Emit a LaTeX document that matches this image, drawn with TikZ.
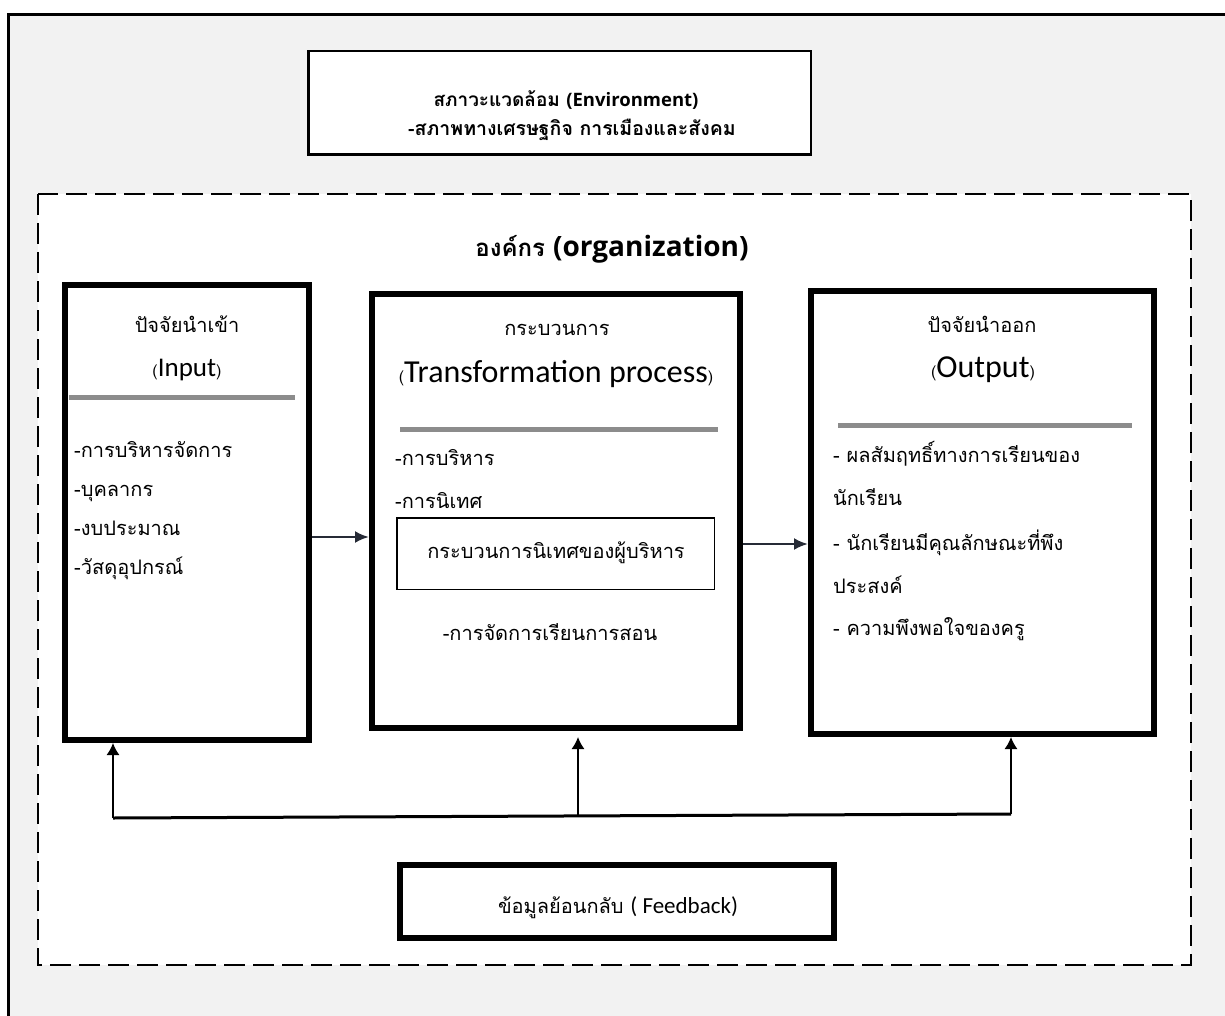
\documentclass[tikz,border=0pt]{standalone}
\usepackage{fontspec}
\setmainfont[Script=Thai]{Loma}
\newfontfamily\latfont{Carlito}
\newfontfamily\headfont{Open Sans}
\usetikzlibrary{arrows.meta}
\definecolor{pagegray}{RGB}{242,242,242}
\definecolor{rulegray}{RGB}{140,140,140}
\definecolor{arrowink}{RGB}{38,43,54}
\begin{document}
\begin{tikzpicture}[
		x={(1pt,0pt)},
		y={(0pt,-1pt)},
		bigbox/.style={draw=black,line width=6pt,fill=white,inner sep=0pt},
		thai/.style={font=\fontsize{20}{24}\selectfont,inner sep=0pt},
		flow/.style={draw=arrowink,line width=2.5pt,-{Latex[length=14pt,width=12pt]}},
		fbarrow/.style={line width=1.5pt,-{Latex[length=12pt,width=13pt]}},
	]
		\fill[white] (0,0) rectangle (1225,1016);
		\useasboundingbox (0,0) rectangle (1225,1016);
		\draw[fill=pagegray,line width=3.5pt] (8.5,14.5) rectangle (1240,1030);
		
		% environment
		\node[draw=black,line width=2.5pt,fill=white,inner sep=0pt,minimum width=502.5pt,minimum height=103.5pt] (envbox) at (559.5,103) {};
		\node[thai,anchor=base,font=\fontsize{19}{22}\selectfont\bfseries] (envtitle) at (566,107) {สภาวะแวดล้อม {\headfont\fontsize{18.5}{22}\selectfont (Environment)}};
		\node[thai,anchor=base,font=\fontsize{19.5}{22}\selectfont\bfseries] (envtext) at (572,136) {-สภาพทางเศรษฐกิจ การเมืองและสังคม};
		
		% organization
		\draw[fill=white,line width=2.7pt,dash pattern=on 21pt off 8pt] (38,194) rectangle (1191,965);
		\node[thai,anchor=base,font=\fontsize{24}{28}\selectfont\bfseries] (orgtitle) at (612,257) {องค์กร {\headfont\fontsize{28}{32}\selectfont (organization)}};
		
		% input
		\node[bigbox,minimum width=244pt,minimum height=455pt] (inbox) at (187,512.5) {};
		\node[thai,anchor=base] (intitle) at (187,332) {ปัจจัยนำเข้า};
		\node[thai,anchor=base] (inname) at (187,376) {{\fontsize{16}{18}\selectfont(}{\latfont\fontsize{27}{30}\selectfont Input}{\fontsize{16}{18}\selectfont)}};
		\draw[rulegray,line width=5pt] (69,397) -- (295,397);
		\foreach \t/\y in {-การบริหารจัดการ/457, -บุคลากร/496, -งบประมาณ/535, -วัสดุอุปกรณ์/574}{
			\node[thai,anchor=base west] at (74,\y) {\t};
		}
		
		% process
		\node[bigbox,minimum width=368pt,minimum height=434pt] (procbox) at (556,511) {};
		\node[thai,anchor=base] (proctitle) at (557,335) {กระบวนการ};
		\node[thai,anchor=base] (procname) at (556,382) {{\fontsize{16}{18}\selectfont(}{\latfont\fontsize{32}{34}\selectfont Transformation process}{\fontsize{16}{18}\selectfont)}};
		\draw[rulegray,line width=5pt] (400,429) -- (718,429);
		\node[thai,anchor=base west] (procadmin) at (395,465) {-การบริหาร};
		\node[thai,anchor=base west] (procsuper) at (395,508) {-การนิเทศ};
		\node[draw=black,line width=1.5pt,fill=white,inner sep=0pt,minimum width=317.5pt,minimum height=71.5pt] (supbox) at (555.5,553.5) {};
		\node[thai,anchor=base] (suptext) at (556,558) {กระบวนการนิเทศของผู้บริหาร};
		\node[thai,anchor=base] (proclearn) at (550,640) {-การจัดการเรียนการสอน};
		
		% output
		\node[bigbox,minimum width=343pt,minimum height=443pt] (outbox) at (982.5,512.5) {};
		\node[thai,anchor=base] (outtitle) at (982,332) {ปัจจัยนำออก};
		\node[thai,anchor=base] (outname) at (983,377) {{\fontsize{16}{18}\selectfont(}{\latfont\fontsize{32}{34}\selectfont Output}{\fontsize{16}{18}\selectfont)}};
		\draw[rulegray,line width=5pt] (838,425) -- (1132,425);
		\foreach \t/\y in {- ผลสัมฤทธิ์ทางการเรียนของ/462, นักเรียน/505, - นักเรียนมีคุณลักษณะที่พึง/550, ประสงค์/593, - ความพึงพอใจของครู/635}{
			\node[thai,anchor=base west] at (833,\y) {\t};
		}
		
		% flows
		\draw[flow] ([yshift=-24.5pt]inbox.east) -- ([yshift=-26pt]procbox.west);
		\draw[flow] ([yshift=-33pt]procbox.east) -- ([yshift=-31.5pt]outbox.west);
		
		% feedback
		\coordinate (fbl) at (113,818);
		\coordinate (fbm) at (578,816);
		\coordinate (fbr) at (1011,814);
		\draw[line width=3pt] (fbl) -- (fbr);
		\draw[fbarrow] (fbl) -- (inbox.south -| fbl);
		\draw[fbarrow,shorten >=6pt] (fbm) -- (procbox.south -| fbm);
		\draw[fbarrow] (fbr) -- (outbox.south -| fbr);
		\node[bigbox,minimum width=434pt,minimum height=73pt] (fbbox) at (617,901.5) {};
		\node[thai,anchor=base,font=\fontsize{20}{24}\selectfont] (fbtext) at (618,913) {ข้อมูลย้อนกลับ {\latfont\fontsize{23}{24}\selectfont( Feedback)}};
	\end{tikzpicture}
\end{document}
